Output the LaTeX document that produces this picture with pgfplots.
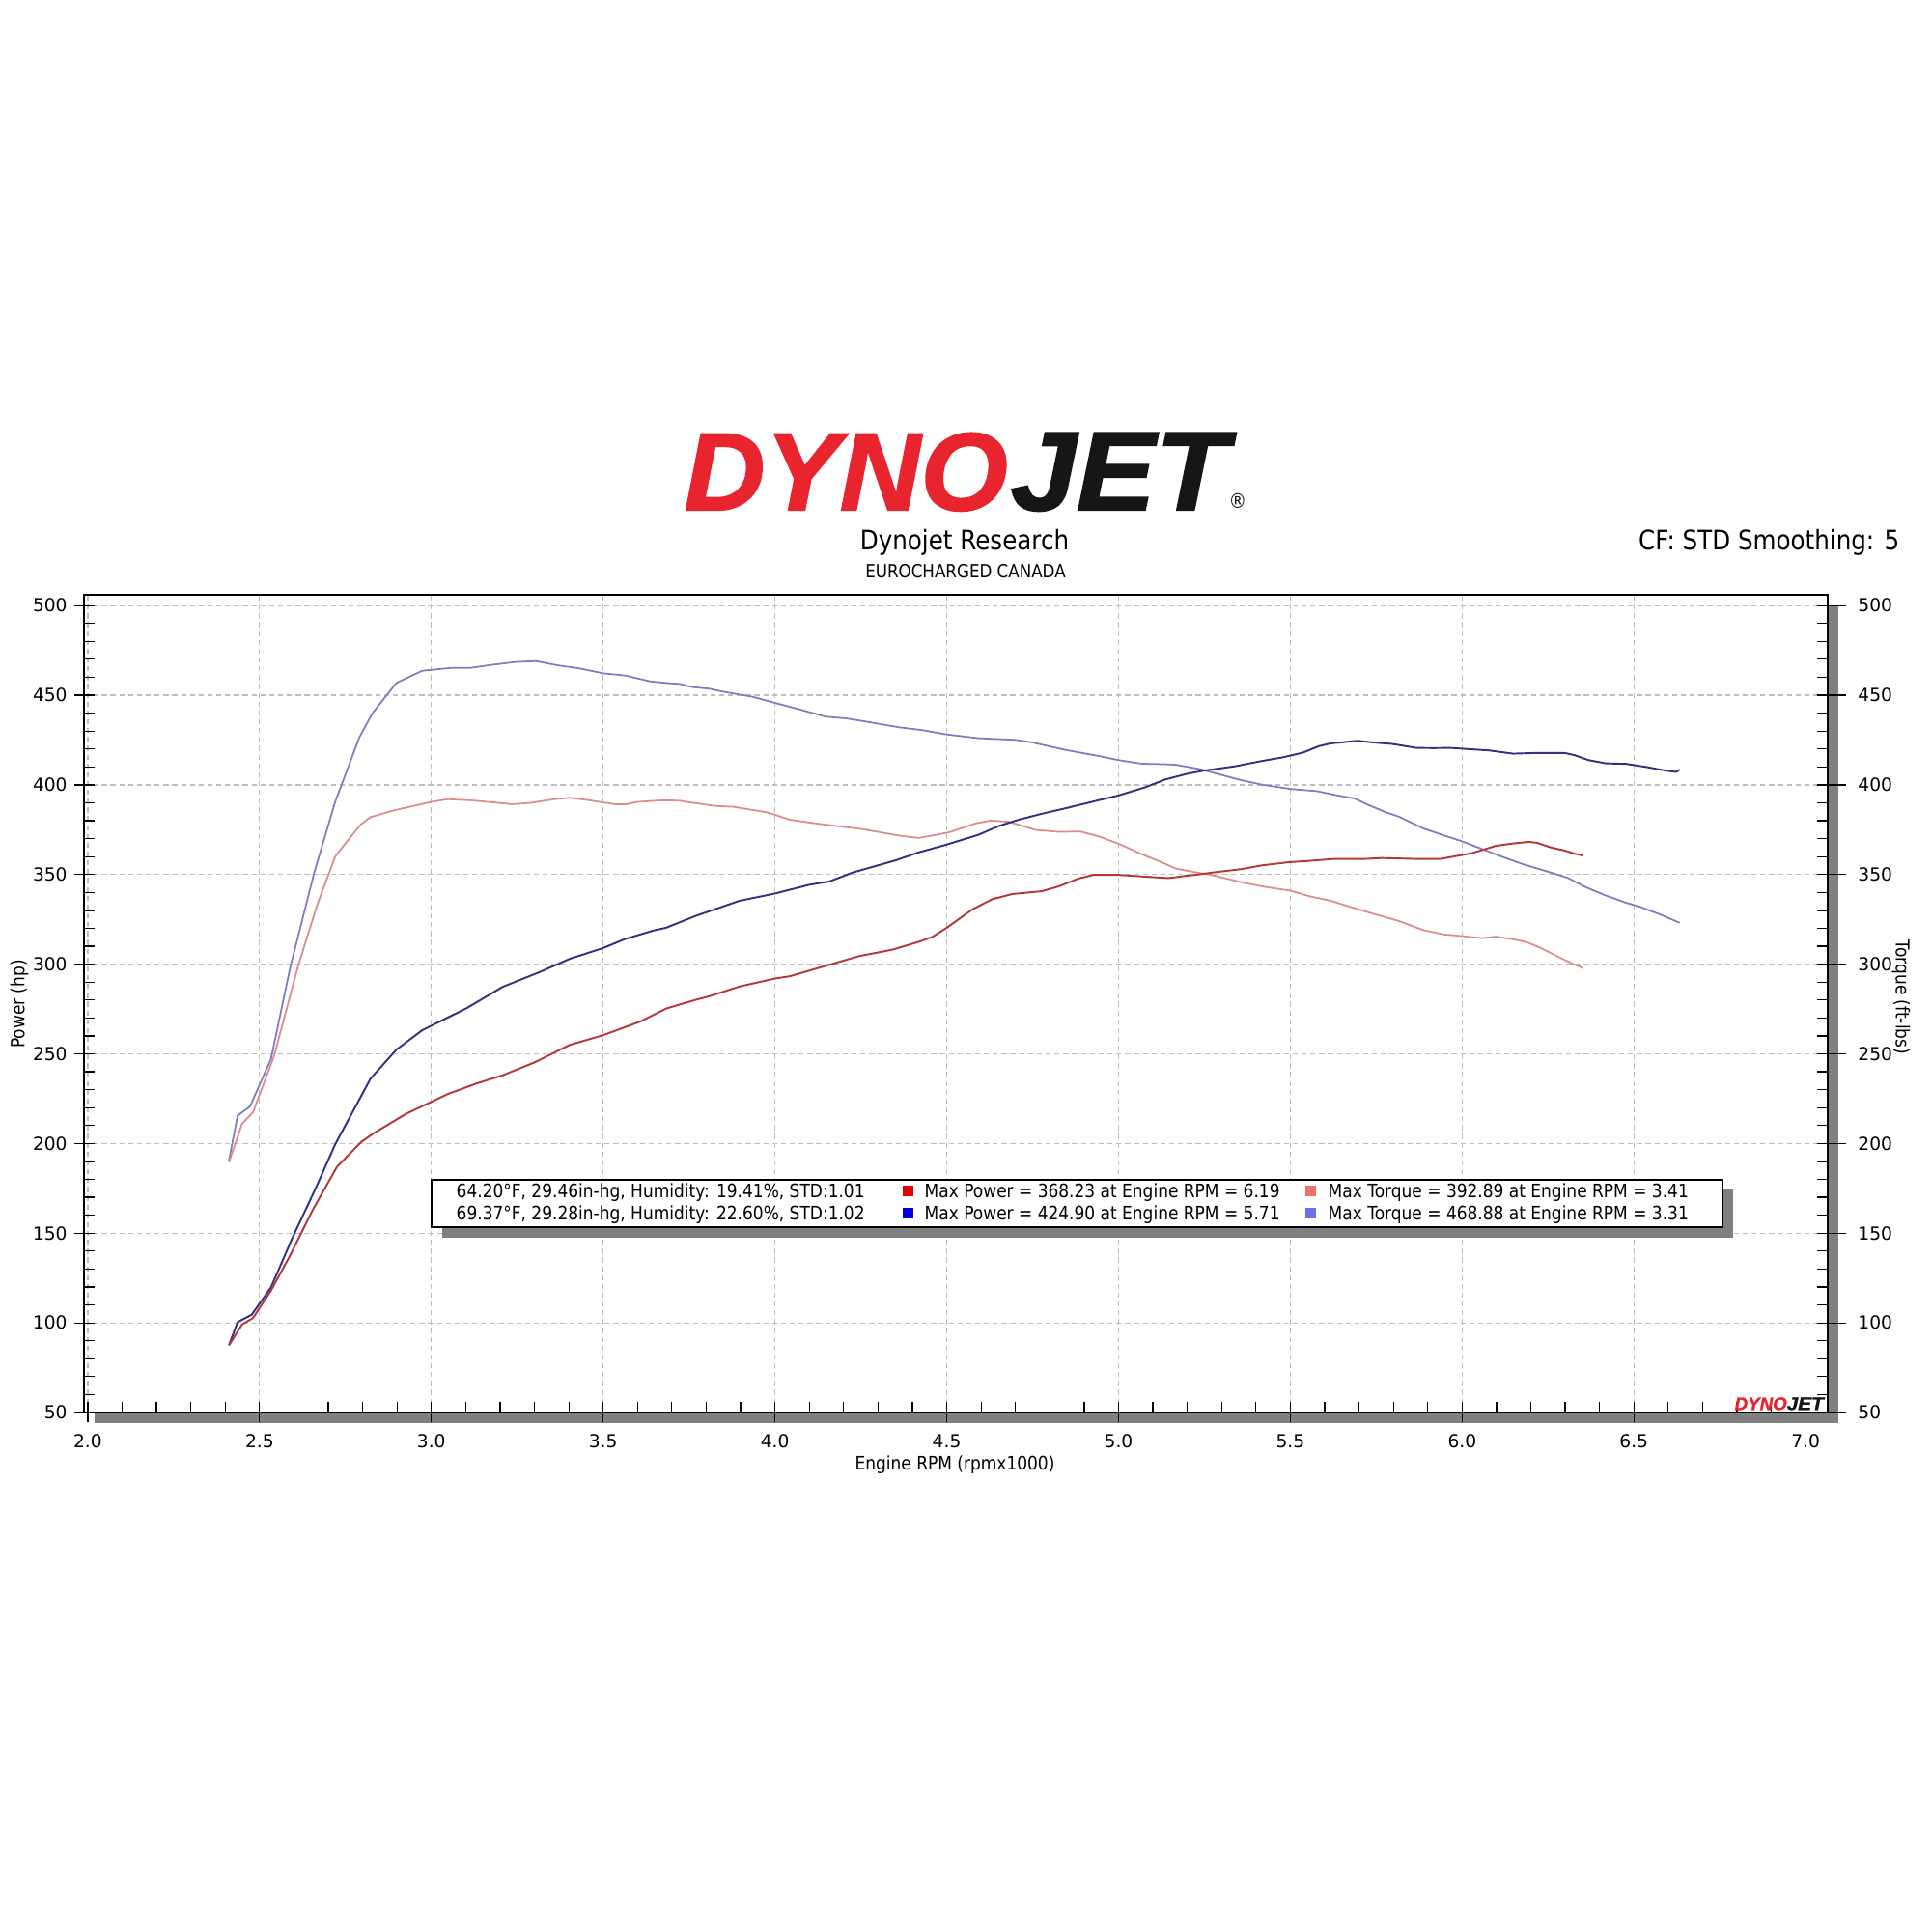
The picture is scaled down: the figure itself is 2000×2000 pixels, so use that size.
\documentclass[border=0pt]{standalone}
\usepackage{fontspec}
\usepackage{pgfplots}
\pgfplotsset{compat=1.18}
\setmainfont{DejaVu Sans}[FakeStretch=0.88]
\newfontfamily\tickfont{DejaVu Sans}
\newfontface\logoface{Liberation Sans Bold Italic}[FakeBold=1.5]
\definecolor{pw1}{RGB}{180,56,56}
\definecolor{tq1}{RGB}{220,140,140}
\definecolor{pw2}{RGB}{50,50,128}
\definecolor{tq2}{RGB}{125,125,192}
\definecolor{lg1}{RGB}{226,0,0}
\definecolor{lg2}{RGB}{0,0,226}
\definecolor{lg3}{RGB}{240,110,110}
\definecolor{lg4}{RGB}{110,110,240}
\definecolor{logored}{RGB}{232,36,46}
\definecolor{logoblk}{RGB}{22,22,24}
\definecolor{shadowgray}{RGB}{128,128,128}
\definecolor{gridgray}{RGB}{190,190,190}

\pgfplotstableread{
x y
2.411 87.5
2.449 99.1
2.481 102.7
2.533 117.9
2.589 137.6
2.654 162.7
2.725 186.9
2.795 200.7
2.832 205.7
2.926 216.5
3.048 227.6
3.132 233.5
3.207 238.0
3.300 245.2
3.403 255.0
3.500 260.4
3.609 268.1
3.684 275.3
3.769 280.1
3.809 282.1
3.896 287.5
4.000 292.0
4.042 293.2
4.148 299.1
4.245 304.5
4.342 308.1
4.419 312.5
4.458 315.2
4.500 320.3
4.535 325.1
4.574 330.5
4.632 336.2
4.690 339.1
4.777 340.7
4.826 343.4
4.884 347.8
4.927 349.8
5.000 349.8
5.087 348.7
5.145 348.0
5.198 349.3
5.227 349.9
5.277 351.2
5.357 353.0
5.417 355.1
5.497 356.9
5.547 357.5
5.627 358.7
5.717 358.7
5.767 359.2
5.867 358.7
5.937 358.7
5.977 360.1
6.028 361.9
6.068 364.2
6.098 366.0
6.148 367.3
6.193 368.2
6.218 367.7
6.258 365.1
6.298 363.4
6.328 361.6
6.353 360.5
}\powerA

\pgfplotstableread{
x y
2.411 189.6
2.449 211.0
2.481 217.4
2.542 248.7
2.612 298.9
2.668 333.2
2.720 360.0
2.753 368.1
2.795 378.0
2.823 382.0
2.889 385.7
3.000 390.5
3.047 392.0
3.113 391.4
3.188 390.1
3.235 389.2
3.291 390.0
3.357 392.0
3.404 392.8
3.460 391.4
3.535 389.2
3.567 389.2
3.600 390.5
3.675 391.4
3.722 391.2
3.761 390.0
3.829 388.2
3.877 387.8
3.974 384.8
4.000 383.3
4.042 380.6
4.119 378.5
4.255 375.3
4.361 371.7
4.419 370.4
4.506 373.5
4.584 378.5
4.627 380.1
4.681 379.4
4.758 374.9
4.826 373.8
4.889 374.0
4.942 371.3
5.000 367.2
5.068 361.3
5.117 357.5
5.167 353.3
5.217 351.5
5.267 349.9
5.367 345.3
5.427 343.1
5.500 341.0
5.557 337.8
5.617 335.4
5.677 331.8
5.737 328.4
5.817 324.0
5.887 319.0
5.947 316.6
6.000 315.7
6.058 314.5
6.098 315.4
6.148 313.9
6.188 312.3
6.228 309.1
6.278 304.3
6.318 300.5
6.353 297.8
}\torqueA

\pgfplotstableread{
x y
2.411 87.5
2.436 100.4
2.477 104.5
2.533 119.7
2.598 148.4
2.664 175.3
2.720 199.5
2.823 236.2
2.898 252.3
2.973 263.1
3.104 275.6
3.207 287.3
3.314 295.5
3.403 303.0
3.500 309.0
3.563 314.0
3.647 318.8
3.683 320.3
3.769 326.9
3.896 335.3
4.000 339.4
4.100 344.3
4.158 346.1
4.226 351.1
4.351 357.9
4.419 362.4
4.500 366.7
4.593 372.2
4.652 377.1
4.710 380.6
4.777 383.9
4.845 386.9
4.922 390.5
5.000 394.1
5.077 398.6
5.136 403.0
5.198 406.1
5.247 407.9
5.337 410.3
5.417 413.3
5.477 415.3
5.537 418.0
5.582 421.5
5.617 423.1
5.697 424.6
5.737 423.7
5.797 422.8
5.867 420.6
5.917 420.5
5.967 420.6
6.038 419.7
6.078 419.2
6.148 417.4
6.218 417.8
6.298 417.8
6.328 416.5
6.368 413.8
6.418 412.0
6.478 411.7
6.538 409.9
6.588 408.1
6.623 407.2
6.633 408.5
}\powerB

\pgfplotstableread{
x y
2.411 190.5
2.436 215.6
2.472 220.6
2.533 247.0
2.589 298.0
2.659 351.0
2.720 390.5
2.790 426.3
2.828 439.8
2.898 456.8
2.973 463.6
3.057 465.2
3.113 465.2
3.179 467.0
3.244 468.5
3.305 469.0
3.366 466.7
3.432 464.9
3.500 462.2
3.563 461.0
3.637 457.7
3.683 456.8
3.722 456.3
3.761 454.5
3.809 453.6
3.848 452.0
3.935 449.1
4.000 445.7
4.071 442.1
4.148 438.0
4.206 437.1
4.264 435.3
4.361 432.1
4.429 430.5
4.500 428.1
4.593 426.0
4.700 425.1
4.748 423.7
4.845 419.5
4.942 416.1
5.000 413.8
5.068 411.8
5.136 411.5
5.167 411.2
5.237 408.8
5.347 403.1
5.417 400.1
5.500 397.7
5.577 396.5
5.627 394.5
5.687 392.4
5.727 388.8
5.777 384.8
5.817 382.2
5.887 375.7
5.947 371.8
6.000 368.5
6.058 364.2
6.118 359.8
6.178 355.7
6.248 351.7
6.308 348.1
6.358 343.1
6.418 338.3
6.478 334.2
6.518 332.0
6.578 327.6
6.633 323.1
}\torqueB

\newcommand{\nodepth}[1]{\raisebox{0pt}[\height][0pt]{#1}}

\begin{document}
\begin{tikzpicture}
\begin{scope}[x=0.1mm,y=-0.1mm]
\useasboundingbox (0,0) rectangle (2000,2000);
\fill[white] (0,0) rectangle (2000,2000);
\fill[shadowgray] (98,627) rectangle (1904,1474);
\end{scope}

\begin{axis}[
  at={(8.7mm,-146.3mm)}, anchor=south west,
  scale only axis, width=180.6mm, height=84.7mm,
  xmin=1.989, xmax=7.064, ymin=50, ymax=506,
  axis background/.style={fill=white},
  xtick={2,2.5,...,7.01}, minor xtick={2,2.1,...,7.01},
  ytick={50,100,...,500}, minor ytick={50,60,...,500},
  xtick pos=left, ytick pos=left,
  tick align=outside, major tick length=1.0mm, minor tick length=-1.1mm,
  tick style={black, line width=0.35pt},
  axis line style={black, line width=0.55pt},
  grid=major,
  major grid style={gridgray, line width=0.35pt, dash pattern=on 1.5pt off 1.1pt},
  /pgf/number format/assume math mode=true,
  tick label style={font=\tickfont\fontsize{5.3}{6}\selectfont, black},
  xticklabel style={/pgf/number format/.cd, fixed, fixed zerofill, precision=1},
  yticklabel style={xshift=0.5mm, /pgf/number format/.cd, fixed, precision=0},
]
\addplot[no markers, color=tq2, line width=0.5pt] table[x=x,y=y] {\torqueB};
\addplot[no markers, color=tq1, line width=0.5pt] table[x=x,y=y] {\torqueA};
\addplot[no markers, color=pw2, line width=0.55pt] table[x=x,y=y] {\powerB};
\addplot[no markers, color=pw1, line width=0.55pt] table[x=x,y=y] {\powerA};
\end{axis}

\begin{axis}[
  at={(8.7mm,-146.3mm)}, anchor=south west,
  scale only axis, width=180.6mm, height=84.7mm,
  xmin=1.989, xmax=7.064, ymin=50, ymax=506,
  xtick=\empty, ytick={50,100,...,500}, minor ytick={50,60,...,500},
  ytick pos=right, yticklabel pos=right,
  axis line style={draw=none},
  tick style={black, line width=0.35pt},
  tick align=outside, major tick length=1.9mm, minor tick length=-1.1mm,
  /pgf/number format/assume math mode=true,
  tick label style={font=\tickfont\fontsize{5.3}{6}\selectfont, black},
  yticklabel style={/pgf/number format/.cd, fixed, precision=0},
]
\end{axis}

\begin{scope}[x=0.1mm,y=-0.1mm]
% legend
\fill[shadowgray] (458,1232) rectangle (1795,1282);
\filldraw[fill=white, draw=black, line width=0.5pt] (447,1222) rectangle (1784,1271);
\node[anchor=base west, inner sep=0pt, font=\fontsize{5.5}{6}\selectfont] at (472,1240) {64.20°F, 29.46in-hg, Humidity: 19.41\%, STD:1.01};
\node[anchor=base west, inner sep=0pt, font=\fontsize{5.5}{6}\selectfont] at (472,1263) {69.37°F, 29.28in-hg, Humidity: 22.60\%, STD:1.02};
\fill[lg1] (935,1228) rectangle (946,1239);
\fill[lg2] (935,1251) rectangle (946,1262);
\fill[lg3] (1352,1228) rectangle (1363,1239);
\fill[lg4] (1352,1251) rectangle (1363,1262);
\node[anchor=base west, inner sep=0pt, font=\fontsize{5.5}{6}\selectfont] at (957,1240) {Max Power = 368.23 at Engine RPM = 6.19};
\node[anchor=base west, inner sep=0pt, font=\fontsize{5.5}{6}\selectfont] at (957,1263) {Max Power = 424.90 at Engine RPM = 5.71};
\node[anchor=base west, inner sep=0pt, font=\fontsize{5.5}{6}\selectfont] at (1375,1240) {Max Torque = 392.89 at Engine RPM = 3.41};
\node[anchor=base west, inner sep=0pt, font=\fontsize{5.5}{6}\selectfont] at (1375,1263) {Max Torque = 468.88 at Engine RPM = 3.31};
% small logo
\node[anchor=south west, inner sep=0pt, logored] at (1796,1461) {\nodepth{\resizebox{5.4mm}{1.3mm}{\logoface DYNO}}};
\node[anchor=south west, inner sep=0pt, logoblk] at (1850,1461) {\nodepth{\resizebox{3.8mm}{1.3mm}{\logoface JET}}};
% big logo
\node[anchor=south west, inner sep=0pt, logored] at (708,529) {\nodepth{\resizebox{33.5mm}{8.0mm}{\logoface DYNO}}};
\node[anchor=south west, inner sep=0pt, logoblk] at (1046,529) {\nodepth{\resizebox{22.5mm}{8.0mm}{\logoface JET}}};
\node[anchor=center, inner sep=0pt, logoblk, font=\fontsize{6}{7}\selectfont] at (1282,519) {®};
% titles
\node[anchor=base, inner sep=0pt, font=\fontsize{7.95}{9}\selectfont] at (999,569) {Dynojet Research};
\node[anchor=base, inner sep=0pt, font=\fontsize{5.4}{6}\selectfont] at (1000,598) {EUROCHARGED CANADA};
\node[anchor=base east, inner sep=0pt, font=\fontsize{7.95}{9}\selectfont] at (1968,569) {CF: STD Smoothing: 5};
% axis labels
\node[rotate=90, inner sep=0pt, font=\fontsize{5.5}{6}\selectfont] at (20,1040) {Power (hp)};
\node[rotate=-90, inner sep=0pt, font=\fontsize{5.5}{6}\selectfont] at (1969,1033) {Torque (ft-lbs)};
\node[anchor=base, inner sep=0pt, font=\fontsize{5.5}{6}\selectfont] at (989,1522) {Engine RPM (rpmx1000)};
\end{scope}
\end{tikzpicture}
\end{document}
